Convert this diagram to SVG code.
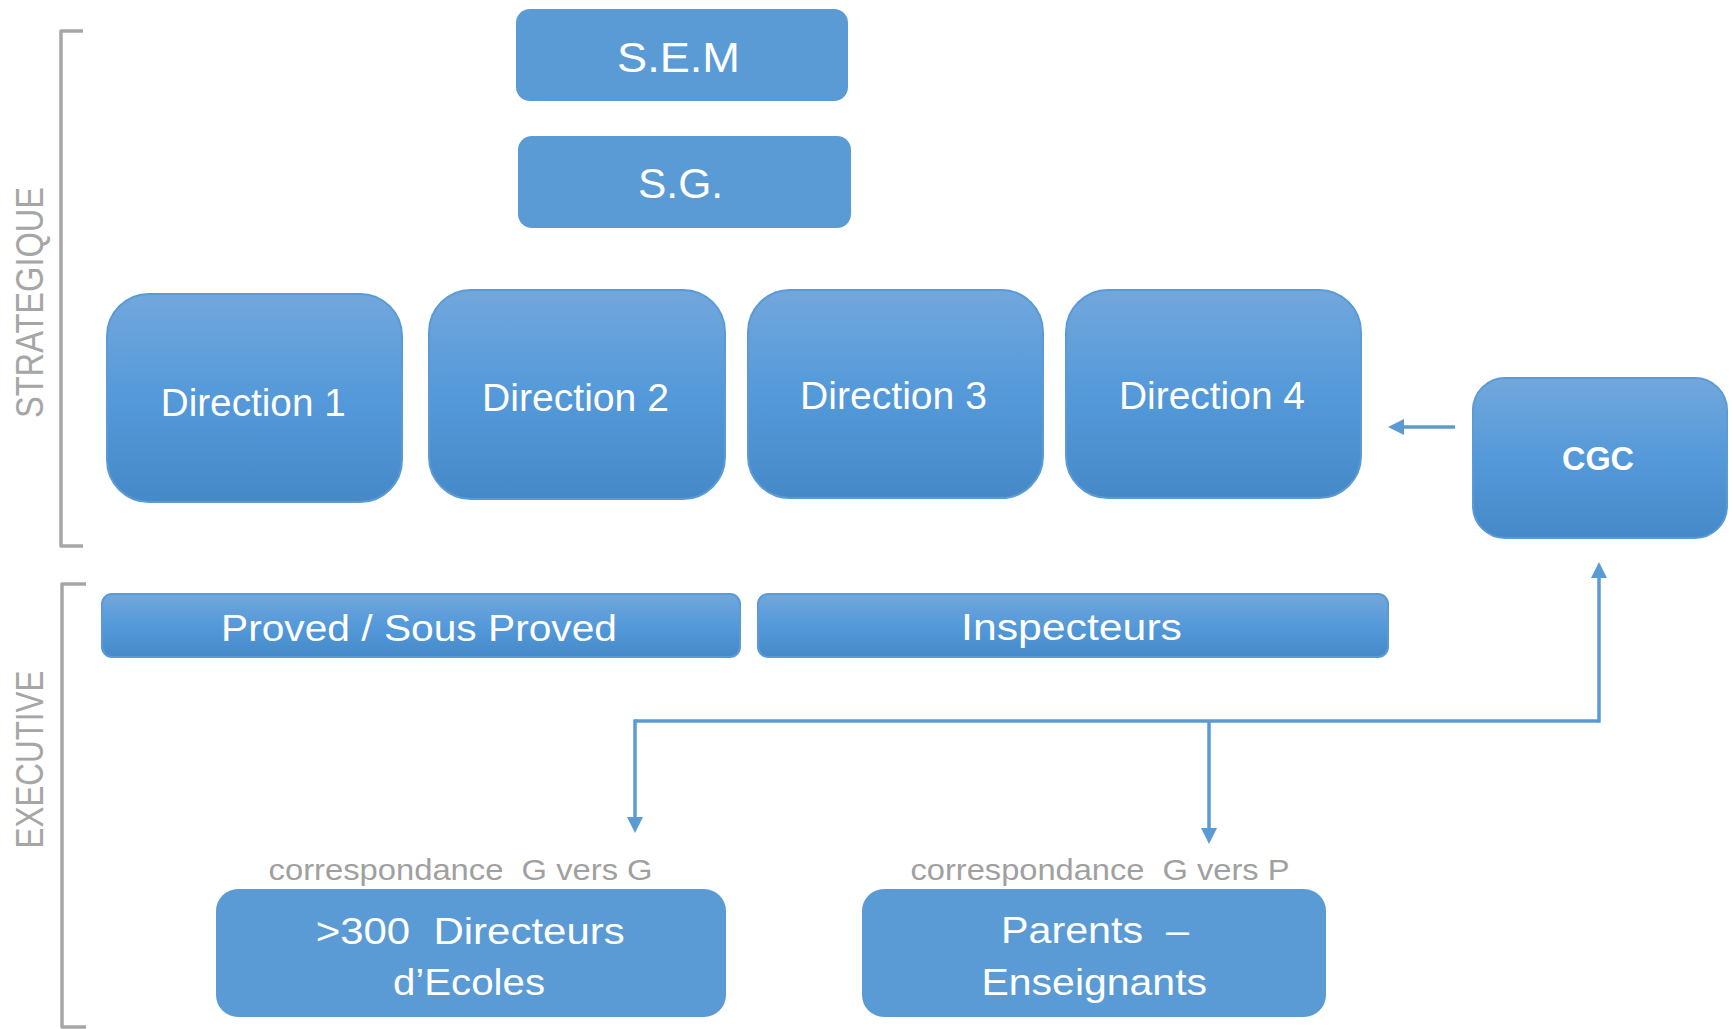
<svg xmlns="http://www.w3.org/2000/svg" width="1733" height="1029" viewBox="0 0 1733 1029">
<defs>
<linearGradient id="g" x1="0" y1="0" x2="0" y2="1">
<stop offset="0" stop-color="#72a7dc"/>
<stop offset="0.5" stop-color="#5499d9"/>
<stop offset="1" stop-color="#4589c8"/>
</linearGradient>
<marker id="ah" markerUnits="userSpaceOnUse" markerWidth="16" markerHeight="16" viewBox="0 0 16 16" refX="12" refY="8" orient="auto">
<path d="M0,0 L16,8 L0,16 z" fill="#5b9bd5"/>
</marker>
<style>
.flat{fill:#5b9bd5;}
.grad{fill:url(#g);stroke:#5b9bd5;stroke-width:2;}
.t{font-family:"Liberation Sans",Arial,sans-serif;fill:#ffffff;white-space:pre;}
.side{font-family:"Liberation Sans",Arial,sans-serif;fill:#a6a6a6;font-size:39px;}
.corr{font-family:"Liberation Sans",Arial,sans-serif;fill:#a0a0a0;font-size:30px;white-space:pre;}
.br{fill:none;stroke:#a6a6a6;stroke-width:3.5;stroke-linejoin:round;}
.conn{fill:none;stroke:#5b9bd5;stroke-width:3.5;}
</style>
</defs>

<g id="labels">
<path class="br" d="M83,31 H61 V546 H83"/>
<path class="br" d="M86,584 H62 V1027 H86"/>
<text class="side" transform="translate(42.7,418) rotate(-90)" textLength="231" lengthAdjust="spacingAndGlyphs">STRATEGIQUE</text>
<text class="side" transform="translate(43,848.5) rotate(-90)" textLength="178" lengthAdjust="spacingAndGlyphs">EXECUTIVE</text>
</g>

<g id="sem">
<rect class="flat" x="516" y="9" width="332" height="92" rx="14"/>
<text class="t" x="617" y="72" font-size="42" textLength="123" lengthAdjust="spacingAndGlyphs">S.E.M</text>
</g>
<g id="sg">
<rect class="flat" x="518" y="136" width="333" height="92" rx="14"/>
<text class="t" x="638" y="198" font-size="42" textLength="85" lengthAdjust="spacingAndGlyphs">S.G.</text>
</g>

<g id="direction1">
<rect class="grad" x="107" y="294" width="295" height="208" rx="42"/>
<text class="t" x="160.7" y="415.6" font-size="39" textLength="185" lengthAdjust="spacingAndGlyphs">Direction 1</text>
</g>
<g id="direction2">
<rect class="grad" x="429" y="290" width="296" height="209" rx="42"/>
<text class="t" x="482" y="411" font-size="39" textLength="187" lengthAdjust="spacingAndGlyphs">Direction 2</text>
</g>
<g id="direction3">
<rect class="grad" x="748" y="290" width="295" height="208" rx="42"/>
<text class="t" x="800" y="409" font-size="39" textLength="187" lengthAdjust="spacingAndGlyphs">Direction 3</text>
</g>
<g id="direction4">
<rect class="grad" x="1066" y="290" width="295" height="208" rx="42"/>
<text class="t" x="1119" y="409" font-size="39" textLength="186" lengthAdjust="spacingAndGlyphs">Direction 4</text>
</g>
<g id="cgc">
<rect class="grad" x="1473" y="378" width="254" height="160" rx="32"/>
<text class="t" x="1562" y="470" font-size="33" font-weight="bold" textLength="72" lengthAdjust="spacingAndGlyphs">CGC</text>
</g>

<g id="proved">
<rect class="grad" x="102" y="594" width="638" height="63" rx="10"/>
<text class="t" x="221" y="641" font-size="36" textLength="396" lengthAdjust="spacingAndGlyphs">Proved / Sous Proved</text>
</g>
<g id="inspecteurs">
<rect class="grad" x="758" y="594" width="630" height="63" rx="10"/>
<text class="t" x="961" y="640" font-size="36" textLength="221" lengthAdjust="spacingAndGlyphs">Inspecteurs</text>
</g>

<g id="directeurs">
<text class="corr" x="268.6" y="880" textLength="384" lengthAdjust="spacingAndGlyphs">correspondance  G vers G</text>
<rect class="flat" x="216" y="889" width="510" height="128" rx="22"/>
<text class="t" x="315.7" y="944" font-size="36" textLength="309" lengthAdjust="spacingAndGlyphs">&gt;300  Directeurs</text>
<text class="t" x="393" y="995" font-size="36" textLength="152" lengthAdjust="spacingAndGlyphs">d’Ecoles</text>
</g>
<g id="parents">
<text class="corr" x="910.5" y="880" textLength="379" lengthAdjust="spacingAndGlyphs">correspondance  G vers P</text>
<rect class="flat" x="862" y="889" width="464" height="128" rx="22"/>
<text class="t" x="1001" y="943" font-size="36" textLength="188" lengthAdjust="spacingAndGlyphs">Parents  –</text>
<text class="t" x="981.5" y="995" font-size="36" textLength="225.5" lengthAdjust="spacingAndGlyphs">Enseignants</text>
</g>

<g id="connectors">
<path class="conn" d="M1455,427 H1392" marker-end="url(#ah)"/>
<path class="conn" d="M635,721 H1599"/>
<path class="conn" d="M1599,722.7 V566" marker-end="url(#ah)"/>
<path class="conn" d="M635,719.3 V829" marker-end="url(#ah)"/>
<path class="conn" d="M1209,721 V840" marker-end="url(#ah)"/>
</g>
</svg>
